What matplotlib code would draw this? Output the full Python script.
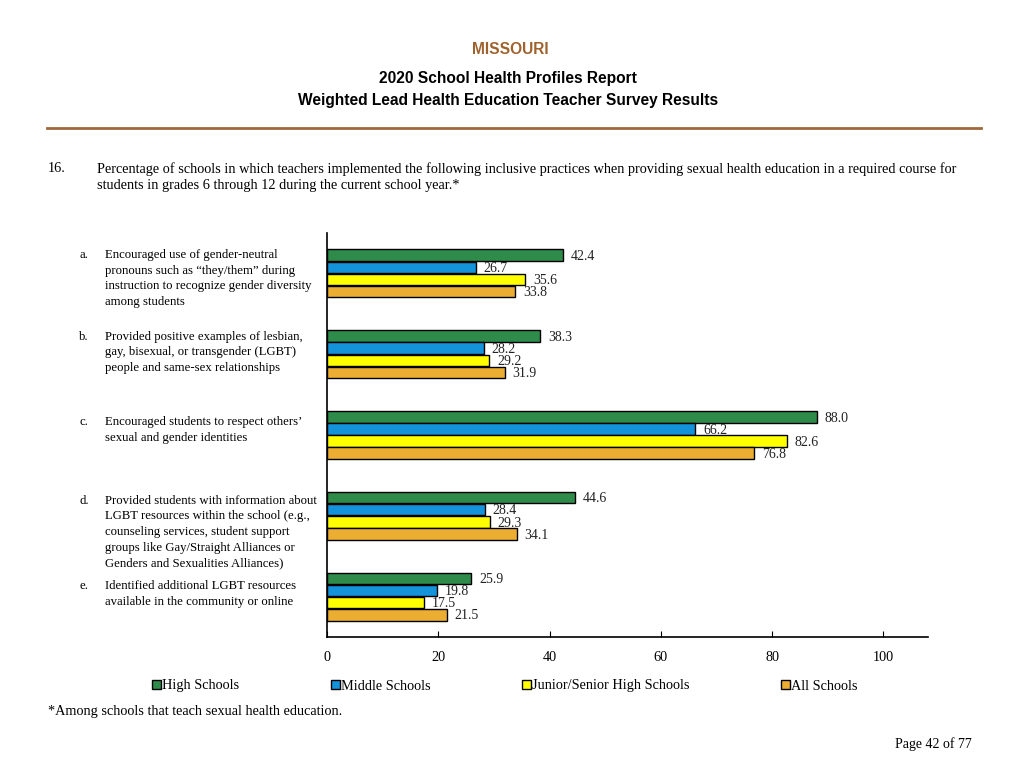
import matplotlib
matplotlib.use("Agg")
import matplotlib.pyplot as plt
from matplotlib.patches import Patch
import numpy as np

# ---- data ----
letters = ["a.", "b.", "c.", "d.", "e."]
category_lines = [
    ["Encouraged use of gender-neutral", "pronouns such as \u201cthey/them\u201d during",
     "instruction to recognize gender diversity", "among students"],
    ["Provided positive examples of lesbian,", "gay, bisexual, or transgender (LGBT)",
     "people and same-sex relationships"],
    ["Encouraged students to respect others\u2019", "sexual and gender identities"],
    ["Provided students with information about", "LGBT resources within the school (e.g.,",
     "counseling services, student support", "groups like Gay/Straight Alliances or",
     "Genders and Sexualities Alliances)"],
    ["Identified additional LGBT resources", "available in the community or online"],
]
series_names = ["High Schools", "Middle Schools", "Junior/Senior High Schools", "All Schools"]
high_schools = [42.4, 38.3, 88.0, 44.6, 25.9]
middle_schools = [26.7, 28.2, 66.2, 28.4, 19.8]
junior_senior = [35.6, 29.2, 82.6, 29.3, 17.5]
all_schools = [33.8, 31.9, 76.8, 34.1, 21.5]
xticks = [0, 20, 40, 60, 80, 100]

colors = ["#2E8B4A", "#1492DA", "#FFFF00", "#EBAE33"]
series = [high_schools, middle_schools, junior_senior, all_schools]

W, H = 1024, 768
fig = plt.figure(figsize=(W / 100, H / 100), dpi=100)
serif = "Liberation Serif"
sans = "Liberation Sans"

def fx(x):
    return x / W

def fy(y):
    return 1 - y / H

# ---- header ----
fig.text(fx(510), fy(49), "MISSOURI", ha="center", va="center", family=sans,
         fontweight="bold", fontsize=11.2, color="#A0622D")
fig.text(fx(508), fy(79), "2020 School Health Profiles Report", ha="center", va="center",
         family=sans, fontweight="bold", fontsize=11.2, color="black")
fig.text(fx(508), fy(101), "Weighted Lead Health Education Teacher Survey Results", ha="center",
         va="center", family=sans, fontweight="bold", fontsize=11.2, color="black")
fig.add_artist(plt.Line2D([fx(47), fx(981)], [fy(128), fy(128)], color="#A0683A", lw=2))

fig.text(fx(48), fy(169), "16.", ha="left", va="center", family=serif, fontsize=10.3)
fig.text(fx(97), fy(169),
         "Percentage of schools in which teachers implemented the following inclusive practices when providing sexual health education in a required course for",
         ha="left", va="center", family=serif, fontsize=10.3)
fig.text(fx(97), fy(186), "students in grades 6 through 12 during the current school year.*",
         ha="left", va="center", family=serif, fontsize=10.3)

# ---- axes ----
ax_left, ax_right, ax_top, ax_bot = 327, 928, 233, 637
ax = fig.add_axes([fx(ax_left), fy(ax_bot), (ax_right - ax_left) / W, (ax_bot - ax_top) / H])
n = len(letters)
ax.set_xlim(0, 108)
ax.set_ylim(n, 0)
bar_h = 0.142
offsets = [-0.265, -0.115, 0.035, 0.185]
for si, (vals, c) in enumerate(zip(series, colors)):
    ys = np.arange(n) + 0.5 + offsets[si] + 0.04
    ax.barh(ys, vals, height=bar_h, color=c, edgecolor="black", linewidth=1.0)
    for y, v in zip(ys, vals):
        ax.text(v + 1.4, y + 0.015, f"{v:.1f}", ha="left", va="center", family=serif,
                fontsize=10, color="#222222")

ax.set_xticks(xticks)
ax.set_xticklabels([str(t) for t in xticks], family=serif, fontsize=10.3)
ax.tick_params(axis="x", direction="in", length=4, width=0.8, pad=10)
ax.set_yticks([])
for s in ["top", "right"]:
    ax.spines[s].set_visible(False)
ax.spines["left"].set_linewidth(1.2)
ax.spines["bottom"].set_linewidth(1.2)

# ---- category labels ----
first_line_y = [255, 337, 422, 501, 586]
line_step = 15.5
for letter, lines, y0 in zip(letters, category_lines, first_line_y):
    fig.text(fx(79), fy(y0), letter, ha="left", va="center", family=serif, fontsize=9.2)
    for k, ln in enumerate(lines):
        fig.text(fx(105), fy(y0 + k * line_step), ln, ha="left", va="center",
                 family=serif, fontsize=9.2)

# ---- legend ----
handles = [Patch(facecolor=c, edgecolor="black", linewidth=1.0) for c in colors]
leg = fig.legend(handles, series_names, loc="center", bbox_to_anchor=(fx(505), fy(686)),
                 ncol=4, frameon=False, prop={"family": serif, "size": 10.3},
                 handlelength=0.6, handleheight=0.6, handletextpad=0.1, columnspacing=6.4)

fig.text(fx(48), fy(712), "*Among schools that teach sexual health education.", ha="left",
         va="center", family=serif, fontsize=10.3)
fig.text(fx(972), fy(744), "Page 42 of 77", ha="right", va="center", family=serif, fontsize=10)

fig.savefig("out.png", dpi=100)
